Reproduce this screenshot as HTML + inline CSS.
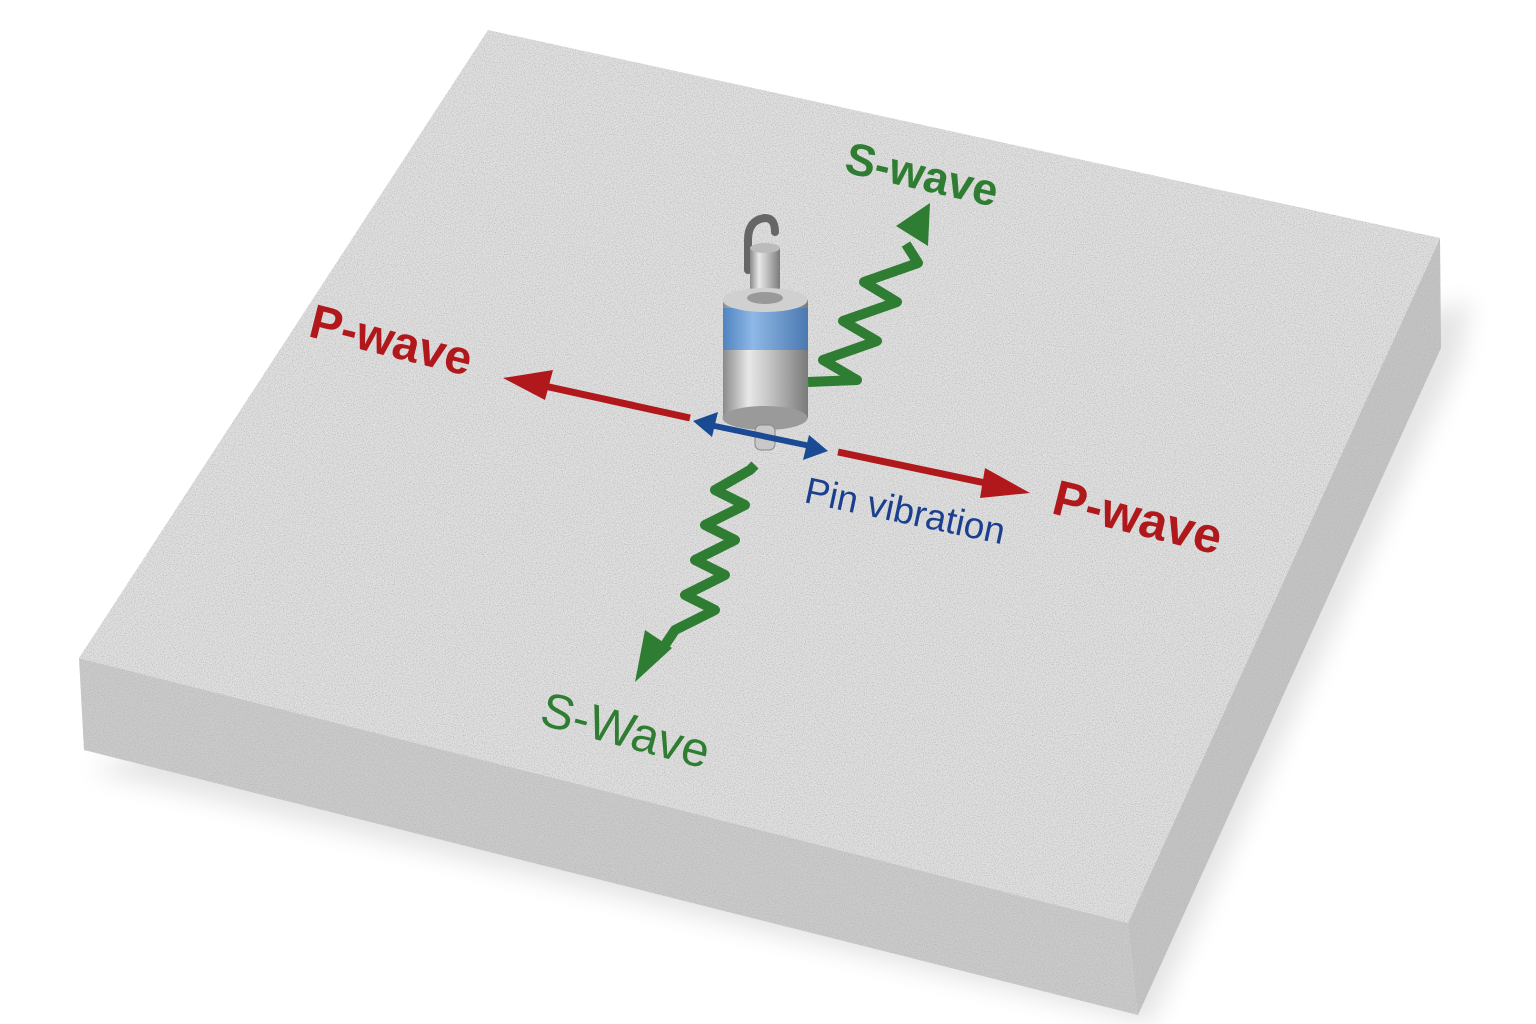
<!DOCTYPE html>
<html><head><meta charset="utf-8"><style>
html,body{margin:0;padding:0;background:#fff;}
svg{display:block}
text{font-family:"Liberation Sans",sans-serif;}
</style></head><body>
<svg width="1536" height="1024" viewBox="0 0 1536 1024" xmlns="http://www.w3.org/2000/svg">
<defs>
<filter id="noise" x="0" y="0" width="100%" height="100%">
<feTurbulence type="fractalNoise" baseFrequency="0.9" numOctaves="2" seed="3" result="n"/>
<feColorMatrix in="n" type="matrix" values="0 0 0 0 0.45  0 0 0 0 0.45  0 0 0 0 0.45  0 0 0 -2.2 1.25" result="d"/>
<feComposite in="d" in2="SourceGraphic" operator="in" result="c"/>
<feMerge><feMergeNode in="SourceGraphic"/><feMergeNode in="c"/></feMerge>
</filter>
<filter id="blur"><feGaussianBlur stdDeviation="12"/></filter>
<linearGradient id="metal" x1="0" x2="1">
<stop offset="0" stop-color="#8a8a8a"/><stop offset="0.3" stop-color="#e8e8e8"/><stop offset="0.55" stop-color="#c4c4c4"/><stop offset="1" stop-color="#7a7a7a"/>
</linearGradient>
<linearGradient id="blue" x1="0" x2="1">
<stop offset="0" stop-color="#4f84c0"/><stop offset="0.35" stop-color="#8fb8e6"/><stop offset="1" stop-color="#4a78b0"/>
</linearGradient>
</defs>
<polygon points="90,770 1150,1024 1460,360 1470,300" fill="#e4e4e4" filter="url(#blur)"/>
<polygon points="79,658 1128,923 1138,1015 84,750" fill="#cbcbcb" filter="url(#noise)"/>
<polygon points="1128,923 1440,238 1441,348 1138,1015" fill="#c4c4c4" filter="url(#noise)"/>
<polygon points="488,30 1440,238 1128,923 79,658" fill="#e0e0e0" filter="url(#noise)"/>

<line x1="690" y1="418" x2="540" y2="385" stroke="#b0181c" stroke-width="7"/>
<polygon points="503,378 553,370 545,400" fill="#b0181c"/>
<line x1="838" y1="452" x2="995" y2="485" stroke="#b0181c" stroke-width="7"/>
<polygon points="1030,493 985,468 980,498" fill="#b0181c"/>

<polyline points="808,382 857,380 823,360 877,341 843,321 897,302 864,282 918,263 906,244" fill="none" stroke="#2e7d32" stroke-width="10" stroke-linejoin="round"/>
<polygon points="930,203 896,226 928,246" fill="#2e7d32"/>
<polyline points="755,465 750,470 715,490 745,505 705,525 735,540 695,560 725,575 685,595 715,610 675,630 663,648" fill="none" stroke="#2e7d32" stroke-width="10" stroke-linejoin="round"/>
<polygon points="635,682 645,630 672,648" fill="#2e7d32"/>

<path d="M748,270 L748,240 Q748,220 765,218 Q775,218 775,232" fill="none" stroke="#666" stroke-width="8" stroke-linecap="round"/>
<rect x="750" y="248" width="30" height="48" fill="url(#metal)"/>
<ellipse cx="765" cy="248" rx="15" ry="5" fill="#bbb"/>
<rect x="723" y="300" width="85" height="118" fill="url(#metal)"/>
<rect x="723" y="308" width="85" height="42" fill="url(#blue)"/>
<ellipse cx="765" cy="300" rx="42.5" ry="12" fill="#d0d0d0"/>
<ellipse cx="765" cy="298" rx="18" ry="6" fill="#999"/>
<ellipse cx="765" cy="418" rx="42.5" ry="12" fill="#9a9a9a"/>
<rect x="755" y="425" width="20" height="25" rx="6" fill="#c8c8c8" stroke="#888"/>

<line x1="710" y1="425" x2="815" y2="447" stroke="#1b4a94" stroke-width="6"/>
<polygon points="693,421 718,412 712,437" fill="#1b4a94"/>
<polygon points="828,451 803,460 809,435" fill="#1b4a94"/>

<text transform="translate(843,172) rotate(13)" font-size="45" fill="#2e7d32" font-weight="bold">S-wave</text>
<text transform="translate(307,336) rotate(14)" font-size="48" fill="#b0181c" font-weight="bold">P-wave</text>
<text transform="translate(1050,513) rotate(14)" font-size="50" fill="#b0181c" font-weight="bold">P-wave</text>
<text transform="translate(803,502) rotate(12)" font-size="37" fill="#1b3f8f">Pin vibration</text>
<text transform="translate(538,724) rotate(15)" font-size="49" fill="#2e7d32">S-Wave</text>
</svg>
</body></html>
